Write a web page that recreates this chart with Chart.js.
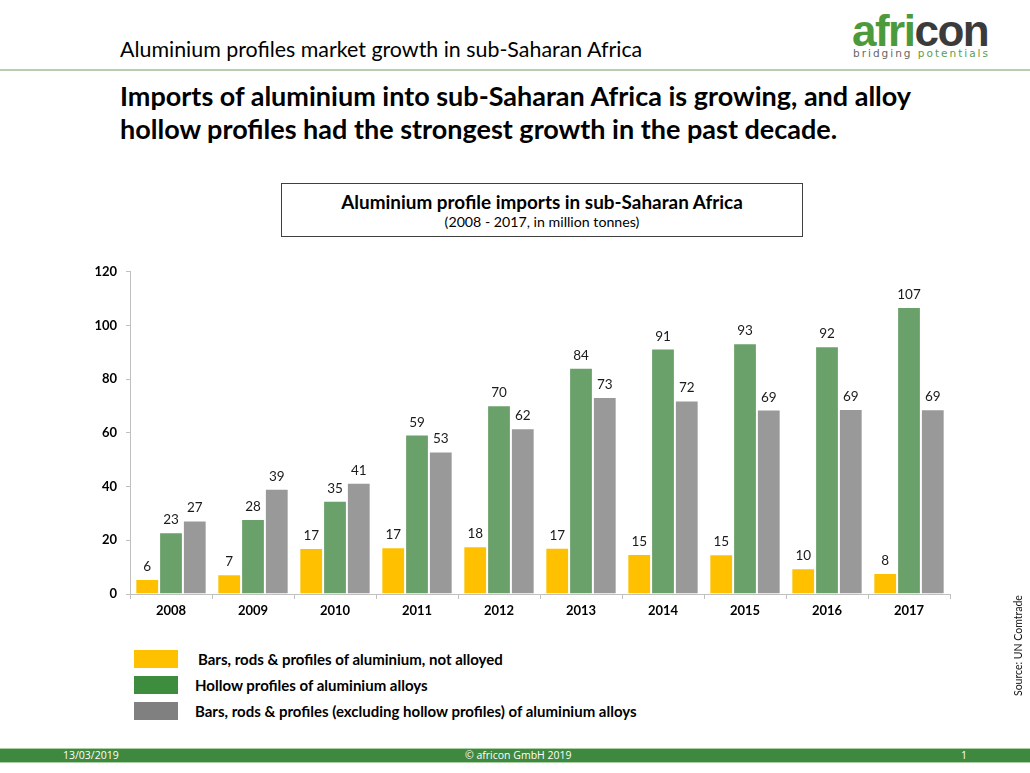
<!DOCTYPE html>
<html>
<head>
<meta charset="utf-8">
<script src="https://cdn.jsdelivr.net/npm/chart.js@4"></script>
<style>
  html, body { margin:0; padding:0; background:#fff; }
  body { width:1030px; height:773px; position:relative; overflow:hidden; font-family: Lato, "Open Sans", sans-serif; color:#000; }
  .abs { position:absolute; }
  #hdr { left:120px; top:36px; font-size:21.4px; white-space:nowrap; }
  #hline { left:0; top:69px; width:1030px; height:2px; background:#b9ceb1; }
  #logo { left:852px; top:9px; font-family:"Liberation Sans", Arial, sans-serif; font-weight:bold; font-size:44px; letter-spacing:-1.5px; line-height:44px; }
  #logo .g { color:#4c9a3c; }
  #logo .d { color:#3b3b3b; }
  #tag { left:853px; top:47px; font-family:"DejaVu Sans", sans-serif; font-size:10.5px; letter-spacing:2px; white-space:nowrap; }
  #tag .d { color:#666; }
  #tag .g { color:#5c9c4c; }
  #title { left:120px; top:79px; font-size:27px; font-weight:bold; line-height:33px; white-space:nowrap; }
  #cbox { left:281px; top:183px; width:520px; height:52px; border:1px solid #404040; text-align:center; }
  #cbox .t { font-weight:bold; font-size:18.9px; margin-top:7px; line-height:21px; }
  #cbox .s { font-size:14.2px; line-height:19px; }
  #wrap { left:0; top:255px; width:1030px; height:370px; }
  .lg { left:134px; width:44px; height:18px; }
  .lt { left:196px; font-weight:bold; font-size:15px; white-space:nowrap; line-height:18px; }
  #src { left:968px; top:640px; width:100px; font-size:10.5px; font-weight:normal; color:#111; transform:rotate(-90deg); text-align:center; white-space:nowrap; }
  #fbar { left:0; top:748px; width:1030px; height:15px; background:#3f883f; border-top:1px solid #a9d0a2; border-bottom:1px solid #a9d0a2; box-sizing:border-box; }
  .ft { top:749px; color:#fff; font-size:10.5px; line-height:13px; white-space:nowrap; font-family:"Liberation Sans Narrow", "Open Sans", sans-serif; }
</style>
</head>
<body>
<div class="abs" id="hdr">Aluminium profiles market growth in sub-Saharan Africa</div>
<div class="abs" id="hline"></div>
<div class="abs" id="logo"><span class="g">afri</span><span class="d">con</span></div>
<div class="abs" id="tag"><span class="d">bridging</span> <span class="g">potentials</span></div>
<div class="abs" id="title">Imports of aluminium into sub-Saharan Africa is growing, and alloy<br>hollow profiles had the strongest growth in the past decade.</div>
<div class="abs" id="cbox"><div class="t">Aluminium profile imports in sub-Saharan Africa</div><div class="s">(2008 - 2017, in million tonnes)</div></div>
<div class="abs" id="wrap"><canvas id="c"></canvas></div>
<div id="legend"></div>
<div class="abs" id="src">Source: UN Comtrade</div>
<div class="abs" id="fbar"></div>
<div class="abs ft" style="left:63px">13/03/2019</div>
<div class="abs ft" style="left:465px;width:100px;text-align:center">© africon GmbH 2019</div>
<div class="abs ft" style="left:961px">1</div>
<script>
const categories = ['2008','2009','2010','2011','2012','2013','2014','2015','2016','2017'];
const notAlloyed = [5.6, 7.4, 17.1, 17.4, 17.8, 17.2, 14.9, 14.8, 9.6, 7.8];
const hollowAlloy = [23.0, 27.9, 34.7, 59.4, 70.3, 84.3, 91.4, 93.4, 92.3, 106.9];
const otherAlloy = [27.4, 39.2, 41.4, 53.1, 61.7, 73.4, 72.1, 68.7, 68.9, 68.8];
const seriesNames = [
  'Bars, rods & profiles of aluminium, not alloyed',
  'Hollow profiles of aluminium alloys',
  'Bars, rods & profiles (excluding hollow profiles) of aluminium alloys'
];
const yTicks = [0, 20, 40, 60, 80, 100, 120];

const barColors = ['#ffc000', '#6aa06a', '#999999'];
const legendColors = ['#ffc000', '#3e8c3e', '#808080'];

// Legend (HTML)
const lg = document.getElementById('legend');
seriesNames.forEach((n, i) => {
  const sw = document.createElement('div');
  sw.className = 'abs lg';
  sw.style.top = (650 + i * 26) + 'px';
  sw.style.background = legendColors[i];
  lg.appendChild(sw);
  const t = document.createElement('div');
  t.className = 'abs lt';
  t.style.top = (650 + i * 26) + 'px';
  t.style.left = (i === 0 ? 198 : 195) + 'px';
  t.textContent = n;
  lg.appendChild(t);
});

const valueLabels = {
  id: 'valueLabels',
  afterDatasetsDraw(chart) {
    const ctx = chart.ctx;
    ctx.save();
    ctx.font = '13.5px Lato, "Open Sans", sans-serif';
    ctx.fillStyle = '#1a1a1a';
    ctx.textAlign = 'center';
    ctx.textBaseline = 'alphabetic';
    chart.data.datasets.forEach((ds, di) => {
      const meta = chart.getDatasetMeta(di);
      meta.data.forEach((el, i) => {
        ctx.fillText(String(Math.round(ds.data[i])), el.x, el.y - 8);
      });
    });
    ctx.restore();
  }
};

const axisColor = '#c0c0c0';
const tickFont = { family: 'Lato, "Open Sans", sans-serif', size: 13, weight: 'bold' };

new Chart(document.getElementById('c'), {
  type: 'bar',
  data: {
    labels: categories,
    datasets: [notAlloyed, hollowAlloy, otherAlloy].map((d, i) => ({
      label: seriesNames[i],
      data: d,
      backgroundColor: barColors[i],
      borderColor: 'rgba(255,255,255,0.7)',
      borderWidth: 1,
      categoryPercentage: 0.87,
      barPercentage: 1.0
    }))
  },
  options: {
    responsive: true,
    maintainAspectRatio: false,
    animation: false,
    layout: { padding: { left: 0, right: 80, top: 13, bottom: 0 } },
    plugins: { legend: { display: false }, tooltip: { enabled: false } },
    scales: {
      x: {
        grid: { display: true, offset: true, drawOnChartArea: false, drawTicks: true, tickLength: 5, color: axisColor },
        border: { display: true, color: axisColor },
        ticks: { font: tickFont, color: '#000', padding: 4 },
        afterFit(s) { s.height = 31; }
      },
      y: {
        min: 0, max: 120,
        afterBuildTicks(s) { s.ticks = yTicks.map(v => ({ value: v })); },
        grid: { display: true, drawOnChartArea: false, drawTicks: true, tickLength: 4, color: axisColor },
        border: { display: true, color: axisColor },
        ticks: { font: tickFont, color: '#000', padding: 9 },
        afterFit(s) { s.width = 130; }
      }
    }
  },
  plugins: [valueLabels]
});
</script>
</body>
</html>
